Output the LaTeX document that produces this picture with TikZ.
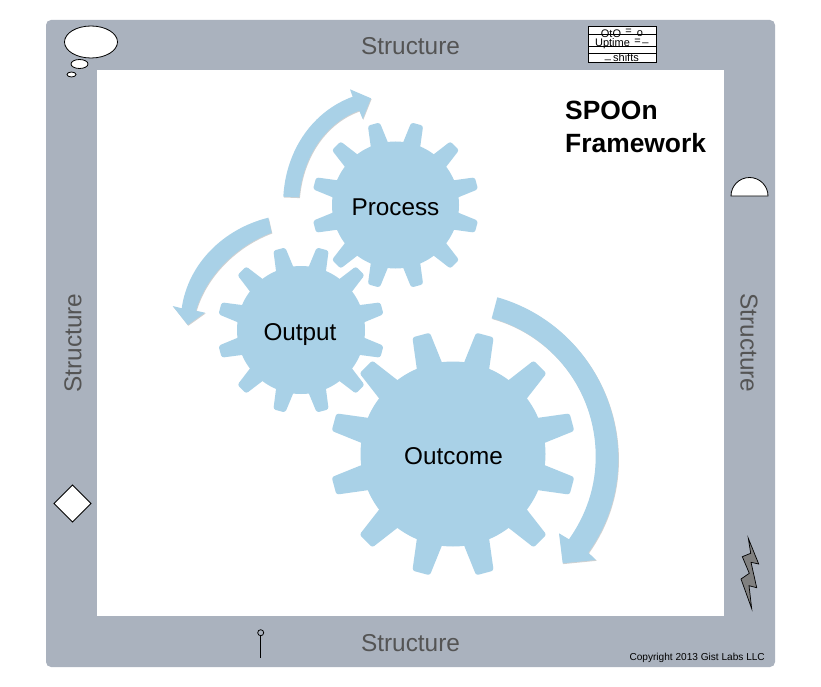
\documentclass[tikz,border=0pt]{standalone}
\usepackage{fontspec}
\setmainfont{Liberation Sans}
\usepackage{tikz}
\usetikzlibrary{shadows}
\definecolor{framegray}{RGB}{170,178,190}
\definecolor{gearblue}{RGB}{169,209,231}
\definecolor{labelgray}{RGB}{84,84,84}
\tikzset{
  gearfill/.style={fill=gearblue, draw=none},
  bigarrow/.style={fill=gearblue, draw=none, drop shadow={shadow xshift=.6pt, shadow yshift=-.8pt, fill=black, opacity=.18}},
  geartext/.style={font=\fontsize{24.3}{28}\selectfont, text=black, inner sep=0pt},
  sidetext/.style={font=\fontsize{24.4}{28}\selectfont, text=labelgray, inner sep=0pt},
  icon/.style={fill=white, draw=black, line width=.8pt},
  tabletext/.style={font=\fontsize{11}{12}\selectfont, text=black, inner sep=0pt}
}
\newcommand{\gearwheel}[4]{
  \begin{scope}[shift={(#1,#2)}]
    \fill[gearfill] (0,0) circle (#3);
    \foreach \a in {15,45,...,345} {
      \fill[gearfill] (\a-8.2:#3-1) [rounded corners=2.5pt] -- (\a-4.2:#4) -- (\a+4.2:#4) [sharp corners] -- (\a+8.2:#3-1) -- cycle;
    }
  \end{scope}
}

\begin{document}
\begin{tikzpicture}[x=1pt, y=-1pt]
    \useasboundingbox (0,0) rectangle (821,687);
    % frame
    \fill[framegray, rounded corners=5pt] (46,20) rectangle (775,667);
    \fill[white] (97,70) rectangle (724,616);
    \node[sidetext] (top) at (410.5,46) {Structure};
    \node[sidetext] (bottom) at (410.5,643) {Structure};
    \node[sidetext, rotate=90] (left) at (73,343) {Structure};
    \node[sidetext, rotate=-90] (right) at (749,343) {Structure};
    % gears
    \gearwheel{395.5}{205}{63.5}{84}
    \gearwheel{301}{330}{64}{84}
    \gearwheel{453}{454}{92.5}{123.5}
    \node[geartext] (process) at (395.5,207) {Process};
    \node[geartext] (output) at (300,335) {Output};
    \node[geartext] (outcome) at (453.5,456) {Outcome};
    % arrows
    \path[bigarrow] (283.3,196.7) .. controls (286,149) and (313.5,111) .. (352.7,96.7) -- (350,89.3) -- (371,98.3) -- (362.7,119) -- (359.3,110.7) .. controls (327,122) and (303,155) .. (299.3,197.3) -- cycle;
    \path[bigarrow] (268.3,217.7) .. controls (223,229) and (188,264) .. (181.7,308.3) -- (172.7,306) -- (187.7,325) -- (205,312.7) -- (196,310.7) .. controls (206,276) and (236,246) .. (271.7,232.7) -- cycle;
    \path[bigarrow] (497.3,297.3) .. controls (570,318) and (618,385) .. (618.3,458.3) .. controls (618.5,493) and (608,525) .. (588.3,552.7) -- (596,560) -- (562.7,563.3) -- (559,533.3) -- (569,539.3) .. controls (586,515) and (596,487) .. (595.7,455) .. controls (595,390) and (552,335) .. (491.7,318.3) -- cycle;
    \node[font=\fontsize{26.4}{33}\selectfont\bfseries, align=left, anchor=west, inner sep=0pt] (title) at (565,127) {SPOOn\\Framework};
    \node[font=\fontsize{10.1}{11}\selectfont, anchor=east, inner sep=0pt] (copyright) at (765,658) {Copyright 2013 Gist Labs LLC};
    % thought bubble
    \draw[icon] (91,42) ellipse (26.5 and 16);
    \draw[icon] (79.5,64) ellipse (8.5 and 4.5);
    \draw[icon] (71.5,74.5) ellipse (4.5 and 2.5);
    % table
    \draw[icon] (588,26) rectangle (656.5,62.5);
    \node[tabletext] (oo) at (611,33.5) {OtO};
    \node[tabletext] (ooeq) at (628.5,32) {=};
    \node[tabletext] (oob) at (640,33.5) {o};
    \node[tabletext] (uptime) at (612.5,43.5) {Uptime};
    \node[tabletext] (upeq) at (637.5,41.5) {=};
    \node[tabletext] (upbar) at (645.5,43) {\_};
    \node[tabletext] (shifts) at (626,58) {shifts};
    \node[tabletext] (shiftbar) at (608,60) {\_};
    \draw[black, line width=.8pt] (588,34.5) -- (656.5,34.5) (588,46) -- (656.5,46) (588,53) -- (656.5,53);
    % small shapes
    \draw[icon] (731,196) arc (180:360:18.5) -- cycle;
    \draw[icon] (72.5,485) -- (91,503.5) -- (72.5,522) -- (54,503.5) -- cycle;
    \draw[fill=black!50, draw=black, line width=.7pt] (748.3,538.3) -- (758.7,564) -- (751,562.3) -- (756.7,587.7) -- (749,585.7) -- (751.7,608.7) -- (741,579) -- (749.3,573.3) -- (742.3,556.7) -- (750.7,553.3) -- cycle;
    \node[circle, draw=black, line width=.8pt, minimum size=6pt, inner sep=0pt] (pin) at (260.7,632.7) {};
    \coordinate (pinend) at (260.7,657.7);
    \draw[black, line width=.8pt] (pin) -- (pinend);
\end{tikzpicture}
\end{document}
